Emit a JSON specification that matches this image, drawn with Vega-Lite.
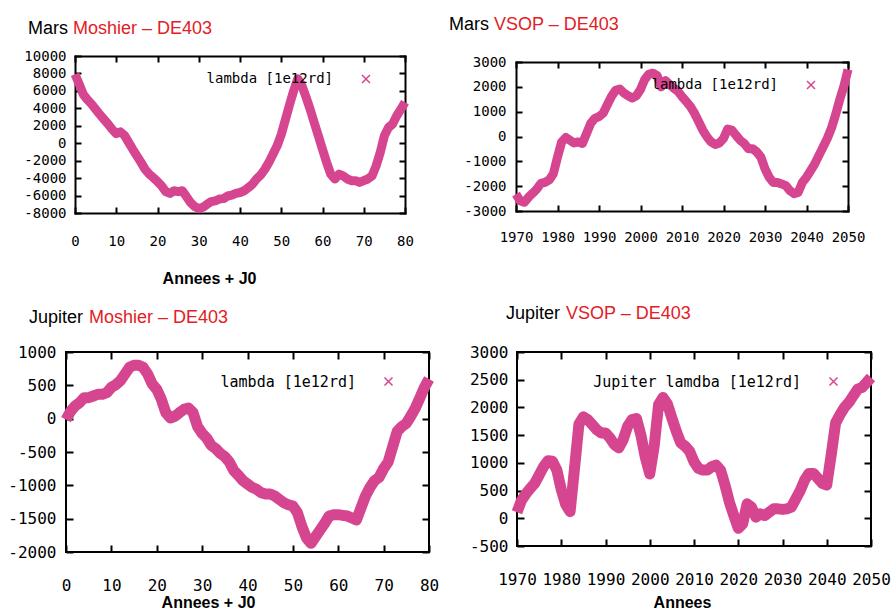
{
  "$schema": "https://vega.github.io/schema/vega-lite/v6.json",
  "usermeta": {"embedOptions": {"actions": false}},
  "background": "white",
  "padding": {"left": 4, "top": 16, "right": 0, "bottom": 0},
  "config": {
    "view": {"stroke": "#000", "strokeWidth": 2},
    "axis": {"domain": false, "domainColor": "#000", "domainWidth": 2, "domainCap": "square", "grid": false, "tickColor": "#000", "tickWidth": 2, "labelColor": "#000", "labelFont": "DejaVu Sans Mono", "labelFlush": false, "labelOverlap": false, "titleColor": "#000", "titleFont": "Liberation Sans", "titleFontWeight": "bold", "titleFontSize": 16},
    "title": {"anchor": "start", "frame": "group", "font": "Liberation Sans", "fontSize": 18, "fontWeight": "normal", "color": "#000", "subtitleFont": "Liberation Sans", "subtitleFontSize": 18, "subtitleFontWeight": "normal", "subtitleColor": "#e3201f", "subtitlePadding": -18},
    "legend": {"padding": 0, "labelColor": "#000", "labelFont": "DejaVu Sans Mono", "labelAlign": "right", "labelOffset": -40, "labelLimit": 400, "symbolType": "M-1,-1L1,1M-1,1L1,-1", "symbolSize": 64, "symbolStrokeWidth": 1.5, "symbolStrokeColor": "#dd66a6", "symbolFillColor": "transparent"}
  },
  "datasets": {
    "mm": [
      {"t":0,"v":7900},{"t":1,"v":6800},{"t":2,"v":5600},{"t":3,"v":5000},{"t":4,"v":4500},{"t":5,"v":3900},{"t":6,"v":3300},{"t":7,"v":2750},{"t":8,"v":2200},{"t":9,"v":1600},
      {"t":10,"v":1100},{"t":11,"v":1300},{"t":12,"v":900},{"t":13,"v":100},{"t":14,"v":-700},{"t":15,"v":-1450},{"t":16,"v":-2200},{"t":17,"v":-3000},{"t":18,"v":-3550},{"t":19,"v":-3950},
      {"t":20,"v":-4400},{"t":21,"v":-4900},{"t":22,"v":-5550},{"t":23,"v":-5750},{"t":24,"v":-5450},{"t":25,"v":-5550},{"t":26,"v":-5450},{"t":27,"v":-6100},{"t":28,"v":-6800},{"t":29,"v":-7250},
      {"t":30,"v":-7500},{"t":31,"v":-7350},{"t":32,"v":-7000},{"t":33,"v":-6700},{"t":34,"v":-6600},{"t":35,"v":-6400},{"t":36,"v":-6350},{"t":37,"v":-6050},{"t":38,"v":-5950},{"t":39,"v":-5750},
      {"t":40,"v":-5650},{"t":41,"v":-5450},{"t":42,"v":-5100},{"t":43,"v":-4700},{"t":44,"v":-4100},{"t":45,"v":-3650},{"t":46,"v":-3000},{"t":47,"v":-2200},{"t":48,"v":-1250},{"t":49,"v":-300},
      {"t":50,"v":1000},{"t":51,"v":2700},{"t":52,"v":4400},{"t":53,"v":6000},{"t":54,"v":7400},{"t":55,"v":6600},{"t":56,"v":5300},{"t":57,"v":3900},{"t":58,"v":2350},{"t":59,"v":850},
      {"t":60,"v":-700},{"t":61,"v":-2200},{"t":62,"v":-3550},{"t":63,"v":-4100},{"t":64,"v":-3550},{"t":65,"v":-3750},{"t":66,"v":-4100},{"t":67,"v":-4300},{"t":68,"v":-4300},{"t":69,"v":-4500},
      {"t":70,"v":-4300},{"t":71,"v":-4100},{"t":72,"v":-3750},{"t":73,"v":-2600},{"t":74,"v":-1050},{"t":75,"v":850},{"t":76,"v":1800},{"t":77,"v":2200},{"t":78,"v":3150},{"t":79,"v":3900},
      {"t":80,"v":4700}
    ],
    "mv": [
      {"t":1970,"v":-2320},{"t":1971,"v":-2590},{"t":1972,"v":-2650},{"t":1973,"v":-2450},{"t":1974,"v":-2290},{"t":1975,"v":-2120},{"t":1976,"v":-1890},{"t":1977,"v":-1850},{"t":1978,"v":-1750},{"t":1979,"v":-1500},
      {"t":1980,"v":-830},{"t":1981,"v":-220},{"t":1982,"v":-40},{"t":1983,"v":-150},{"t":1984,"v":-260},{"t":1985,"v":-220},{"t":1986,"v":-280},{"t":1987,"v":120},{"t":1988,"v":530},{"t":1989,"v":730},
      {"t":1990,"v":800},{"t":1991,"v":940},{"t":1992,"v":1280},{"t":1993,"v":1610},{"t":1994,"v":1860},{"t":1995,"v":1910},{"t":1996,"v":1750},{"t":1997,"v":1640},{"t":1998,"v":1550},{"t":1999,"v":1640},
      {"t":2000,"v":1890},{"t":2001,"v":2290},{"t":2002,"v":2500},{"t":2003,"v":2550},{"t":2004,"v":2450},{"t":2005,"v":2000},{"t":2006,"v":2250},{"t":2007,"v":2090},{"t":2008,"v":1950},{"t":2009,"v":1820},
      {"t":2010,"v":1610},{"t":2011,"v":1410},{"t":2012,"v":1210},{"t":2013,"v":940},{"t":2014,"v":600},{"t":2015,"v":260},{"t":2016,"v":-10},{"t":2017,"v":-220},{"t":2018,"v":-320},{"t":2019,"v":-260},
      {"t":2020,"v":-80},{"t":2021,"v":300},{"t":2022,"v":260},{"t":2023,"v":50},{"t":2024,"v":-150},{"t":2025,"v":-280},{"t":2026,"v":-490},{"t":2027,"v":-490},{"t":2028,"v":-620},{"t":2029,"v":-830},
      {"t":2030,"v":-1300},{"t":2031,"v":-1640},{"t":2032,"v":-1850},{"t":2033,"v":-1850},{"t":2034,"v":-1910},{"t":2035,"v":-1980},{"t":2036,"v":-2180},{"t":2037,"v":-2300},{"t":2038,"v":-2250},{"t":2039,"v":-1850},
      {"t":2040,"v":-1640},{"t":2041,"v":-1370},{"t":2042,"v":-1100},{"t":2043,"v":-760},{"t":2044,"v":-420},{"t":2045,"v":-80},{"t":2046,"v":330},{"t":2047,"v":870},{"t":2048,"v":1480},{"t":2049,"v":2020},
      {"t":2050,"v":2700}
    ],
    "jm": [
      {"t":0,"v":-15},{"t":1,"v":110},{"t":2,"v":190},{"t":3,"v":240},{"t":4,"v":315},{"t":5,"v":315},{"t":6,"v":340},{"t":7,"v":365},{"t":8,"v":365},{"t":9,"v":390},
      {"t":10,"v":470},{"t":11,"v":510},{"t":12,"v":570},{"t":13,"v":670},{"t":14,"v":770},{"t":15,"v":800},{"t":16,"v":800},{"t":17,"v":770},{"t":18,"v":670},{"t":19,"v":520},
      {"t":20,"v":440},{"t":21,"v":290},{"t":22,"v":90},{"t":23,"v":10},{"t":24,"v":35},{"t":25,"v":90},{"t":26,"v":140},{"t":27,"v":160},{"t":28,"v":90},{"t":29,"v":-120},
      {"t":30,"v":-220},{"t":31,"v":-290},{"t":32,"v":-400},{"t":33,"v":-450},{"t":34,"v":-520},{"t":35,"v":-570},{"t":36,"v":-650},{"t":37,"v":-780},{"t":38,"v":-850},{"t":39,"v":-930},
      {"t":40,"v":-980},{"t":41,"v":-1030},{"t":42,"v":-1060},{"t":43,"v":-1110},{"t":44,"v":-1130},{"t":45,"v":-1130},{"t":46,"v":-1160},{"t":47,"v":-1210},{"t":48,"v":-1260},{"t":49,"v":-1290},
      {"t":50,"v":-1310},{"t":51,"v":-1410},{"t":52,"v":-1620},{"t":53,"v":-1790},{"t":54,"v":-1870},{"t":55,"v":-1770},{"t":56,"v":-1670},{"t":57,"v":-1570},{"t":58,"v":-1460},{"t":59,"v":-1440},
      {"t":60,"v":-1440},{"t":61,"v":-1450},{"t":62,"v":-1460},{"t":63,"v":-1490},{"t":64,"v":-1520},{"t":65,"v":-1340},{"t":66,"v":-1160},{"t":67,"v":-1030},{"t":68,"v":-930},{"t":69,"v":-880},
      {"t":70,"v":-750},{"t":71,"v":-650},{"t":72,"v":-420},{"t":73,"v":-190},{"t":74,"v":-120},{"t":75,"v":-70},{"t":76,"v":40},{"t":77,"v":160},{"t":78,"v":315},{"t":79,"v":470},
      {"t":80,"v":595}
    ],
    "jv": [
      {"t":1970,"v":110},{"t":1971,"v":320},{"t":1972,"v":440},{"t":1973,"v":540},{"t":1974,"v":630},{"t":1975,"v":780},{"t":1976,"v":930},{"t":1977,"v":1040},{"t":1978,"v":1030},{"t":1979,"v":870},
      {"t":1980,"v":520},{"t":1981,"v":250},{"t":1982,"v":120},{"t":1983,"v":900},{"t":1984,"v":1700},{"t":1985,"v":1830},{"t":1986,"v":1780},{"t":1987,"v":1690},{"t":1988,"v":1600},{"t":1989,"v":1540},
      {"t":1990,"v":1540},{"t":1991,"v":1450},{"t":1992,"v":1330},{"t":1993,"v":1270},{"t":1994,"v":1420},{"t":1995,"v":1660},{"t":1996,"v":1780},{"t":1997,"v":1800},{"t":1998,"v":1500},{"t":1999,"v":1100},
      {"t":2000,"v":800},{"t":2001,"v":1300},{"t":2002,"v":2050},{"t":2003,"v":2180},{"t":2004,"v":2060},{"t":2005,"v":1810},{"t":2006,"v":1570},{"t":2007,"v":1360},{"t":2008,"v":1300},{"t":2009,"v":1210},
      {"t":2010,"v":1020},{"t":2011,"v":900},{"t":2012,"v":870},{"t":2013,"v":870},{"t":2014,"v":930},{"t":2015,"v":960},{"t":2016,"v":870},{"t":2017,"v":600},{"t":2018,"v":290},{"t":2019,"v":50},
      {"t":2020,"v":-180},{"t":2021,"v":-100},{"t":2022,"v":260},{"t":2023,"v":200},{"t":2024,"v":20},{"t":2025,"v":80},{"t":2026,"v":50},{"t":2027,"v":110},{"t":2028,"v":170},{"t":2029,"v":170},
      {"t":2030,"v":160},{"t":2031,"v":170},{"t":2032,"v":200},{"t":2033,"v":350},{"t":2034,"v":500},{"t":2035,"v":690},{"t":2036,"v":810},{"t":2037,"v":810},{"t":2038,"v":720},{"t":2039,"v":630},
      {"t":2040,"v":600},{"t":2041,"v":1140},{"t":2042,"v":1720},{"t":2043,"v":1870},{"t":2044,"v":2000},{"t":2045,"v":2090},{"t":2046,"v":2210},{"t":2047,"v":2330},{"t":2048,"v":2360},{"t":2049,"v":2450},
      {"t":2050,"v":2540}
    ]
  },
  "columns": 2,
  "align": "none",
  "bounds": "full",
  "spacing": {"row": 18, "column": 0},
  "resolve": {"scale": {"x": "independent", "y": "independent", "color": "independent"}, "legend": {"color": "independent"}},
  "concat": [
    {
      "width": 339, "height": 157,
      "view": {"stroke": null},
      "data": {"name": "mm"},
      "title": {"text": "Mars", "subtitle": "\u200b\u00a0\u00a0\u00a0\u00a0\u00a0\u00a0\u00a0\u00a0\u00a0Moshier – DE403", "dx": -38, "offset": 8},
      "resolve": {"axis": {"x": "independent", "y": "independent"}},
      "layer": [
        {
          "mark": {"type": "line", "strokeJoin": "round"},
          "encoding": {
            "x": {"field": "t", "type": "quantitative", "scale": {"domain": [0, 80], "range": [9, 339], "nice": false, "zero": false},
              "axis": {"orient": "bottom", "domain": true, "values": [0,10,20,30,40,50,60,70,80], "labelExpr": "'' + datum.value", "labelFontSize": 14, "labelPadding": 27, "tickSize": -6, "title": "Annees + J0", "titleX": 143, "titlePadding": 17, "minExtent": 40}},
            "y": {"field": "v", "type": "quantitative", "scale": {"domain": [-8000, 10000], "nice": false, "zero": false},
              "axis": {"orient": "left", "offset": -9, "domain": true, "values": [-8000,-6000,-4000,-2000,0,2000,4000,6000,8000,10000], "labelExpr": "'' + datum.value", "labelFontSize": 14, "labelPadding": 15, "tickSize": -6, "title": null, "minExtent": 55}},
            "color": {"datum": "lambda [1e12rd]", "type": "nominal", "scale": {"range": ["#d6458f"]},
              "legend": {"title": null, "orient": "none", "legendX": 293, "legendY": 16, "labelFontSize": 14}},
            "strokeWidth": {"value": 9}
          }
        },
        {
          "mark": {"type": "line", "opacity": 0},
          "encoding": {
            "x": {"field": "t", "type": "quantitative", "axis": {"orient": "top", "domain": true, "values": [0,10,20,30,40,50,60,70,80], "labels": false, "tickSize": -6, "title": null, "minExtent": 10}},
            "y": {"field": "v", "type": "quantitative", "axis": {"orient": "right", "domain": true, "values": [-8000,-6000,-4000,-2000,0,2000,4000,6000,8000,10000], "labels": false, "tickSize": -6, "title": null, "minExtent": 12}}
          }
        }
      ]
    },
    {
      "width": 332, "height": 155,
      "view": {"stroke": null},
      "data": {"name": "mv"},
      "title": {"text": "Mars", "subtitle": "\u200b\u00a0\u00a0\u00a0\u00a0\u00a0\u00a0\u00a0\u00a0\u00a0VSOP – DE403", "dx": -67, "offset": 18},
      "resolve": {"axis": {"x": "independent", "y": "independent"}},
      "layer": [
        {
          "mark": {"type": "line", "strokeJoin": "round"},
          "encoding": {
            "x": {"field": "t", "type": "quantitative", "scale": {"domain": [1970, 2050], "nice": false, "zero": false},
              "axis": {"orient": "bottom", "domain": true, "values": [1970,1980,1990,2000,2010,2020,2030,2040,2050], "labelExpr": "'' + datum.value", "labelFontSize": 14, "labelPadding": 25, "tickSize": -6, "title": null}},
            "y": {"field": "v", "type": "quantitative", "scale": {"domain": [-3000, 3000], "range": [155, 6], "nice": false, "zero": false},
              "axis": {"orient": "left", "domain": true, "values": [-3000,-2000,-1000,0,1000,2000,3000], "labelExpr": "'' + datum.value", "labelFontSize": 14, "labelPadding": 16, "tickSize": -6, "title": null, "minExtent": 70}},
            "color": {"datum": "lambda [1e12rd]", "type": "nominal", "scale": {"range": ["#d6458f"]},
              "legend": {"title": null, "orient": "none", "legendX": 288, "legendY": 22, "labelFontSize": 14}},
            "strokeWidth": {"value": 9}
          }
        },
        {
          "mark": {"type": "line", "opacity": 0},
          "encoding": {
            "x": {"field": "t", "type": "quantitative", "axis": {"orient": "top", "offset": -6, "domain": true, "values": [1970,1980,1990,2000,2010,2020,2030,2040,2050], "labels": false, "tickSize": -6, "title": null, "minExtent": 10}},
            "y": {"field": "v", "type": "quantitative", "axis": {"orient": "right", "domain": true, "values": [-3000,-2000,-1000,0,1000,2000,3000], "labels": false, "tickSize": -6, "title": null, "minExtent": 12}}
          }
        }
      ]
    },
    {
      "width": 363, "height": 200,
      "data": {"name": "jm"},
      "title": {"text": "Jupiter", "subtitle": "\u200b\u00a0\u00a0\u00a0\u00a0\u00a0\u00a0\u00a0\u00a0\u00a0\u00a0\u00a0\u00a0Moshier – DE403", "dx": -37, "offset": -22},
      "resolve": {"axis": {"x": "independent", "y": "independent"}},
      "layer": [
        {
          "mark": {"type": "line", "strokeJoin": "round"},
          "encoding": {
            "x": {"field": "t", "type": "quantitative", "scale": {"domain": [0, 80], "nice": false, "zero": false},
              "axis": {"orient": "bottom", "values": [0,10,20,30,40,50,60,70,80], "labelExpr": "'' + datum.value", "labelFontSize": 16, "labelPadding": 32, "tickSize": -7, "title": "Annees + J0", "titleX": 142, "titlePadding": 0, "minExtent": 42}},
            "y": {"field": "v", "type": "quantitative", "scale": {"domain": [-2000, 1000], "nice": false, "zero": false},
              "axis": {"orient": "left", "values": [-2000,-1500,-1000,-500,0,500,1000], "labelExpr": "'' + datum.value", "labelFontSize": 16, "labelPadding": 17, "tickSize": -7, "title": null, "minExtent": 61}},
            "color": {"datum": "lambda [1e12rd]", "type": "nominal", "scale": {"range": ["#d6458f"]},
              "legend": {"title": null, "orient": "none", "legendX": 315, "legendY": 22, "labelFontSize": 15}},
            "strokeWidth": {"value": 11}
          }
        },
        {
          "mark": {"type": "line", "opacity": 0},
          "encoding": {
            "x": {"field": "t", "type": "quantitative", "axis": {"orient": "top", "values": [0,10,20,30,40,50,60,70,80], "labels": false, "tickSize": -7, "title": null, "minExtent": 47}},
            "y": {"field": "v", "type": "quantitative", "axis": {"orient": "right", "values": [-2000,-1500,-1000,-500,0,500,1000], "labels": false, "tickSize": -7, "title": null, "minExtent": 16}}
          }
        }
      ]
    },
    {
      "width": 354, "height": 194,
      "data": {"name": "jv"},
      "title": {"text": "Jupiter", "subtitle": "\u200b\u00a0\u00a0\u00a0\u00a0\u00a0\u00a0\u00a0\u00a0\u00a0\u00a0\u00a0\u00a0VSOP – DE403", "dx": -11, "offset": -18},
      "resolve": {"axis": {"x": "independent", "y": "independent"}},
      "layer": [
        {
          "mark": {"type": "line", "strokeJoin": "round"},
          "encoding": {
            "x": {"field": "t", "type": "quantitative", "scale": {"domain": [1970, 2050], "nice": false, "zero": false},
              "axis": {"orient": "bottom", "values": [1970,1980,1990,2000,2010,2020,2030,2040,2050], "labelExpr": "'' + datum.value", "labelFontSize": 16, "labelPadding": 32, "tickSize": -7, "title": "Annees", "titleX": 165, "titlePadding": 6, "minExtent": 42}},
            "y": {"field": "v", "type": "quantitative", "scale": {"domain": [-500, 3000], "nice": false, "zero": false},
              "axis": {"orient": "left", "values": [-500,0,500,1000,1500,2000,2500,3000], "labelExpr": "'' + datum.value", "labelFontSize": 16, "labelPadding": 16, "tickSize": -7, "title": null, "minExtent": 70}},
            "color": {"datum": "Jupiter lamdba [1e12rd]", "type": "nominal", "scale": {"range": ["#d6458f"]},
              "legend": {"title": null, "orient": "none", "legendX": 309, "legendY": 22, "labelFontSize": 15}},
            "strokeWidth": {"value": 11}
          }
        },
        {
          "mark": {"type": "line", "opacity": 0},
          "encoding": {
            "x": {"field": "t", "type": "quantitative", "axis": {"orient": "top", "values": [1970,1980,1990,2000,2010,2020,2030,2040,2050], "labels": false, "tickSize": -7, "title": null, "minExtent": 47}},
            "y": {"field": "v", "type": "quantitative", "axis": {"orient": "right", "values": [-500,0,500,1000,1500,2000,2500,3000], "labels": false, "tickSize": -7, "title": null, "minExtent": 12}}
          }
        }
      ]
    }
  ]
}
